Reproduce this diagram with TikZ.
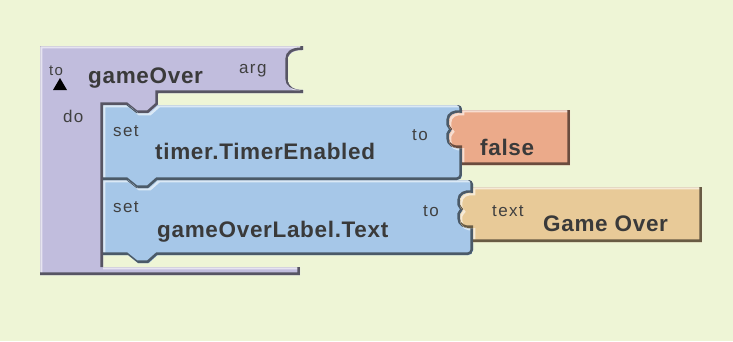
\documentclass[tikz,border=0pt]{standalone}
\usepackage{fontspec}
\setmainfont{Liberation Sans}
\newfontfamily\blocksans[LetterSpace=3]{Liberation Sans}
\newfontfamily\labelsans[LetterSpace=8]{Liberation Sans}

\definecolor{canvas}{RGB}{238,245,214}
\definecolor{procpurple}{RGB}{193,189,221}
\definecolor{setblue}{RGB}{166,199,232}
\definecolor{boolorange}{RGB}{235,170,138}
\definecolor{texttan}{RGB}{232,202,152}
\definecolor{labelgray}{RGB}{64,64,64}
\definecolor{namegray}{RGB}{58,58,58}

% jigsaw knob on a vertical edge at x=#1, running from y=#2 down to y=#2+35
\newcommand\knob[2]{%
  .. controls (#1-7,#2-1) and (#1-13,#2+2) .. (#1-13,#2+8)
  -- (#1-13,#2+13)
  .. controls (#1-13,#2+16) and (#1-10,#2+15.5) .. (#1-10,#2+17.5)
  .. controls (#1-10,#2+19.5) and (#1-13,#2+19) .. (#1-13,#2+22)
  -- (#1-13,#2+27)
  .. controls (#1-13,#2+33) and (#1-7,#2+36) .. (#1,#2+35)}

% procedure block: header with arg socket, "do" column and bottom strip
\def\procpath{(40,46) -- (303,46) -- (303,50)
  .. controls (293,50) and (288,54) .. (288,60) -- (288,80)
  .. controls (288,86) and (293,90) .. (303,90) -- (303,93)
  -- (158,93) -- (158,105) -- (149,113) -- (138,113) -- (128,105)
  -- (103,105) -- (103,267) -- (300,267) -- (300,275) -- (40,275) -- cycle}

% first setter block
\def\setApath{(103,105) -- (128,105) -- (138,113) -- (149,113) -- (158,105)
  -- (458,105) to[out=0,in=90] (462,109) -- (462,113) \knob{462}{113}
  -- (462,176) to[out=-90,in=0] (458,180)
  -- (158,180) -- (149,188) -- (138,188) -- (128,180) -- (103,180) -- cycle}

% second setter block
\def\setBpath{(103,180) -- (128,180) -- (138,188) -- (149,188) -- (158,180)
  -- (469,180) to[out=0,in=90] (473,184) -- (473,193) \knob{473}{193}
  -- (473,251) to[out=-90,in=0] (469,255)
  -- (158,255) -- (149,263) -- (138,263) -- (128,255) -- (103,255) -- cycle}

% value blocks plugged into the sockets
\def\falsepath{(570,110) -- (462,110) -- (462,113) \knob{462}{113}
  -- (462,165) -- (570,165) -- cycle}
\def\textpath{(702,187) -- (473,187) -- (473,193) \knob{473}{193}
  -- (473,242) -- (702,242) -- cycle}

% filled block with a light top/left rim and a dark bottom/right rim
\newcommand\bevelblock[2]{%
  \begin{scope}
    \path[clip] #2;
    \fill[#1] #2;
    \draw[#1!40!white, line width=2.4pt, shift={(1.2,1.2)}] #2;
    \draw[#1!45!black, line width=2.6pt, shift={(-1.3,-1.3)}] #2;
  \end{scope}}

\tikzset{
  lbl/.style={anchor=base west, inner sep=0pt, text=labelgray,
    font=\labelsans\fontsize{17}{20}\selectfont},
  blockname/.style={anchor=base west, inner sep=0pt, text=namegray,
    font=\blocksans\bfseries\fontsize{22.5}{27}\selectfont},
}

\begin{document}
\begin{tikzpicture}[x=1pt,y=-1pt]
  \fill[canvas] (0,0) rectangle (733,341);
  \useasboundingbox (0,0) rectangle (733,341);

  \bevelblock{procpurple}{\procpath}
  \bevelblock{setblue}{\setBpath}
  \bevelblock{setblue}{\setApath}
  \bevelblock{boolorange}{\falsepath}
  \bevelblock{texttan}{\textpath}

  % collapse marker under "to"
  \fill[black] (53,90) -- (67,90) -- (60,78) -- cycle;

  \node[lbl, font=\labelsans\fontsize{15}{17}\selectfont] (procto) at (49,75) {to};
  \node[blockname] (procname) at (88,83) {gameOver};
  \node[lbl] (arg) at (239,73) {arg};
  \node[lbl] (do) at (63,122) {do};

  \node[lbl] (setA) at (113,136) {set};
  \node[blockname] (propA) at (155,159) {timer.TimerEnabled};
  \node[lbl] (toA) at (412,140) {to};
  \node[blockname] (falseval) at (480,155) {false};

  \node[lbl] (setB) at (113,212) {set};
  \node[blockname] (propB) at (157,237) {gameOverLabel.Text};
  \node[lbl] (toB) at (423,216) {to};
  \node[lbl] (textlbl) at (492,216) {text};
  \node[blockname] (textval) at (543,231) {Game Over};
\end{tikzpicture}
\end{document}
